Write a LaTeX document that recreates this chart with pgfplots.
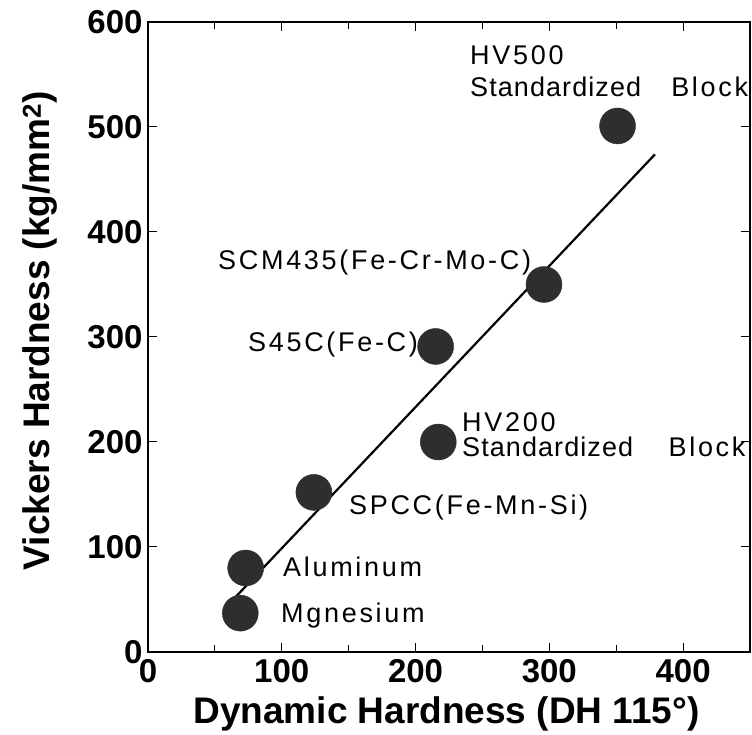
\documentclass[border=0pt]{standalone}
\usepackage{fontspec}
\setmainfont{Liberation Sans}
\newfontfamily\annot[LetterSpace=10]{Liberation Sans}
\newfontfamily\annotnarrow[LetterSpace=4]{Liberation Sans}
\usepackage{pgfplots}
\pgfplotsset{compat=1.18}

\begin{document}
\begin{tikzpicture}
\useasboundingbox (-148pt,-83pt) rectangle (604pt,652pt);
\begin{axis}[
  scale only axis, width=602pt, height=630pt,
  xmin=0, xmax=450, ymin=0, ymax=600,
  xtick={0,100,...,400}, ytick={0,100,...,600},
  minor xtick={50,150,...,450},
  tick align=inside, major tick length=9pt, minor tick length=7pt,
  axis line style={line width=1.8pt},
  every tick/.style={line width=1pt, black},
  /pgf/number format/assume math mode=true,
  ticklabel style={font=\fontsize{33}{33}\selectfont\bfseries},
  xticklabel style={yshift=-4pt},
  yticklabel style={xshift=-2pt},
  every axis x label/.style={at={(axis description cs:0.496,-0.098)}, anchor=center},
  every axis y label/.style={at={(axis description cs:-0.179,0.51)}, anchor=center, rotate=90},
  xlabel={Dynamic Hardness (DH 115°)},
  ylabel={Vickers Hardness (kg/mm\textsuperscript{2})},
  label style={font=\fontsize{37}{37}\selectfont\bfseries},
  clip=false,
]
% least-squares trend line
\addplot[line width=2.2pt, black] coordinates {(60,45) (379,474)};
% measured materials
\addplot[only marks, mark=*, mark size=18pt,
  mark options={fill=black!82, draw=black!82}] coordinates {
  (69,37)   % Mgnesium
  (73,80)   % Aluminum
  (124,152) % SPCC
  (217,200) % HV200 block
  (215,291) % S45C
  (296,350) % SCM435
  (351,501) % HV500 block
};
\begin{scope}[every node/.style={inner sep=0pt, anchor=west, font=\annot\fontsize{27}{27}\selectfont}]
\node at (axis cs:240.7,568.6) {HV500};
\node[font=\annotnarrow\fontsize{27}{27}\selectfont] at (axis cs:240.7,538) {Standardized};
\node at (axis cs:391,538) {Block};
\node at (axis cs:52.3,371.4) {SCM435(Fe-Cr-Mo-C)};
\node at (axis cs:74.7,292.4) {S45C(Fe-C)};
\node at (axis cs:234.7,219) {HV200};
\node[font=\annotnarrow\fontsize{27}{27}\selectfont] at (axis cs:234.7,195.2) {Standardized};
\node at (axis cs:389,195.2) {Block};
\node at (axis cs:150.2,138) {SPCC(Fe-Mn-Si)};
\node at (axis cs:100.9,81) {Aluminum};
\node at (axis cs:99.4,35.2) {Mgnesium};
\end{scope}
\end{axis}
\end{tikzpicture}
\end{document}
